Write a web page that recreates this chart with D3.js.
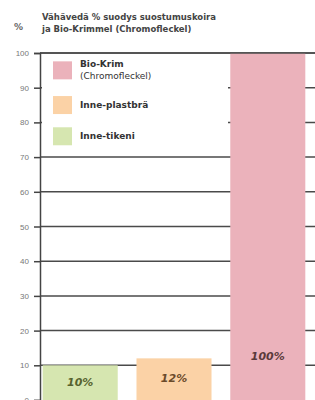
<!DOCTYPE html>
<html>
<head>
<meta charset="utf-8">
<script src="https://cdn.jsdelivr.net/npm/d3@7"></script>
<style>
  body { margin: 0; background: #fff; }
  svg { display: block; font-family: "DejaVu Sans", sans-serif; }
</style>
</head>
<body>
<div id="chart"></div>
<script>
var categories = ["Inne-tikeni", "Inne-plastbrä", "Bio-Krim"];
var values = [10, 12, 100];
var barLabels = ["10%", "12%", "100%"];
var colors = ["#d6e6b0", "#fbd2a6", "#ebb2bb"];
var labelColors = ["#56622e", "#6a4a2a", "#5a3a3a"];
var yTicks = [0, 10, 20, 30, 40, 50, 60, 70, 80, 90, 100];
var legendLabels = [["Bio-Krim", "(Chromofleckel)"], ["Inne-plastbrä"], ["Inne-tikeni"]];
var legendColors = ["#ebb2bb", "#fbd2a6", "#d6e6b0"];
var titleLines = ["Vähävedä % suodys suostumuskoira", "ja Bio-Krimmel (Chromofleckel)"];

var width = 315, height = 400;
var margin = { left: 40, top: 53, right: 5, bottom: 0 };

var svg = d3.select('#chart').append('svg')
    .attr('width', width)
    .attr('height', height);

var yScale = d3.scaleLinear().domain([0, 100]).range([height - margin.bottom, margin.top]);
var xScale = d3.scaleBand().domain(categories)
    .range([38, 310])
    .paddingInner(0.2).paddingOuter(0.05);

// gridlines
svg.append('g')
    .selectAll('line')
    .data(yTicks.filter(function (d) { return d > 0; }))
    .enter().append('line')
    .attr('x1', margin.left)
    .attr('x2', width)
    .attr('y1', function (d) { return yScale(d); })
    .attr('y2', function (d) { return yScale(d); })
    .attr('stroke', '#4a4a4a')
    .attr('stroke-width', 1.5);

// bars
svg.append('g')
    .selectAll('rect')
    .data(values)
    .enter().append('rect')
    .attr('x', function (d, i) { return xScale(categories[i]); })
    .attr('width', xScale.bandwidth())
    .attr('y', function (d) { return yScale(d); })
    .attr('height', function (d) { return yScale(0) - yScale(d); })
    .attr('fill', function (d, i) { return colors[i]; });

// top line over the tallest bar
svg.append('line')
    .attr('x1', margin.left).attr('x2', width)
    .attr('y1', yScale(100)).attr('y2', yScale(100))
    .attr('stroke', '#4a4a4a').attr('stroke-width', 1.5);

// bar labels
svg.append('g')
    .selectAll('text')
    .data(barLabels)
    .enter().append('text')
    .attr('x', function (d, i) { return xScale(categories[i]) + xScale.bandwidth() / 2; })
    .attr('y', function (d, i) { return i == 2 ? yScale(11.5) : yScale(values[i]) + (i == 0 ? 21 : 24); })
    .attr('text-anchor', 'middle')
    .attr('font-size', 11)
    .attr('font-weight', 'bold')
    .attr('font-style', 'italic')
    .attr('fill', function (d, i) { return labelColors[i]; })
    .text(function (d) { return d; });

// legend box (white, hides gridlines)
var legend = svg.append('g');
legend.append('rect')
    .attr('x', margin.left + 2).attr('y', yScale(100) + 2)
    .attr('width', 186).attr('height', yScale(72) - yScale(100))
    .attr('fill', '#fff');

var legendY = [yScale(95), yScale(85), yScale(76)];
legendLabels.forEach(function (lab, i) {
    legend.append('rect')
        .attr('x', 53).attr('y', legendY[i] - 9)
        .attr('width', 19).attr('height', 18)
        .attr('fill', legendColors[i]);
    var t = legend.append('text')
        .attr('x', 80)
        .attr('y', legendY[i] - (lab.length > 1 ? 3 : -3))
        .attr('font-size', 9)
        .attr('font-weight', 'bold')
        .attr('fill', '#333');
    lab.forEach(function (s, j) {
        t.append('tspan')
            .attr('x', 80)
            .attr('dy', j == 0 ? 0 : 12)
            .attr('font-weight', j == 0 ? 'bold' : 'normal')
            .text(s);
    });
});

// y axis
var yAxisG = svg.append('g')
    .attr('transform', 'translate(' + margin.left + ',0)');
yAxisG.call(d3.axisLeft(yScale).tickValues(yTicks).tickSize(6).tickPadding(5));
yAxisG.select('.domain').attr('stroke', '#444').attr('stroke-width', 1.5);
yAxisG.selectAll('.tick line').attr('stroke', '#444').attr('stroke-width', 1.5);
yAxisG.selectAll('.tick text').attr('font-size', 8).attr('fill', '#777');

// % label
svg.append('text')
    .attr('x', 14).attr('y', 30)
    .attr('font-size', 9).attr('font-weight', 'bold').attr('fill', '#666')
    .text('%');

// title
svg.append('g')
    .selectAll('text')
    .data(titleLines)
    .enter().append('text')
    .attr('x', 42)
    .attr('y', function (d, i) { return 20 + i * 12; })
    .attr('font-size', 8.5)
    .attr('font-weight', 'bold')
    .attr('fill', '#444')
    .text(function (d) { return d; });
</script>
</body>
</html>
